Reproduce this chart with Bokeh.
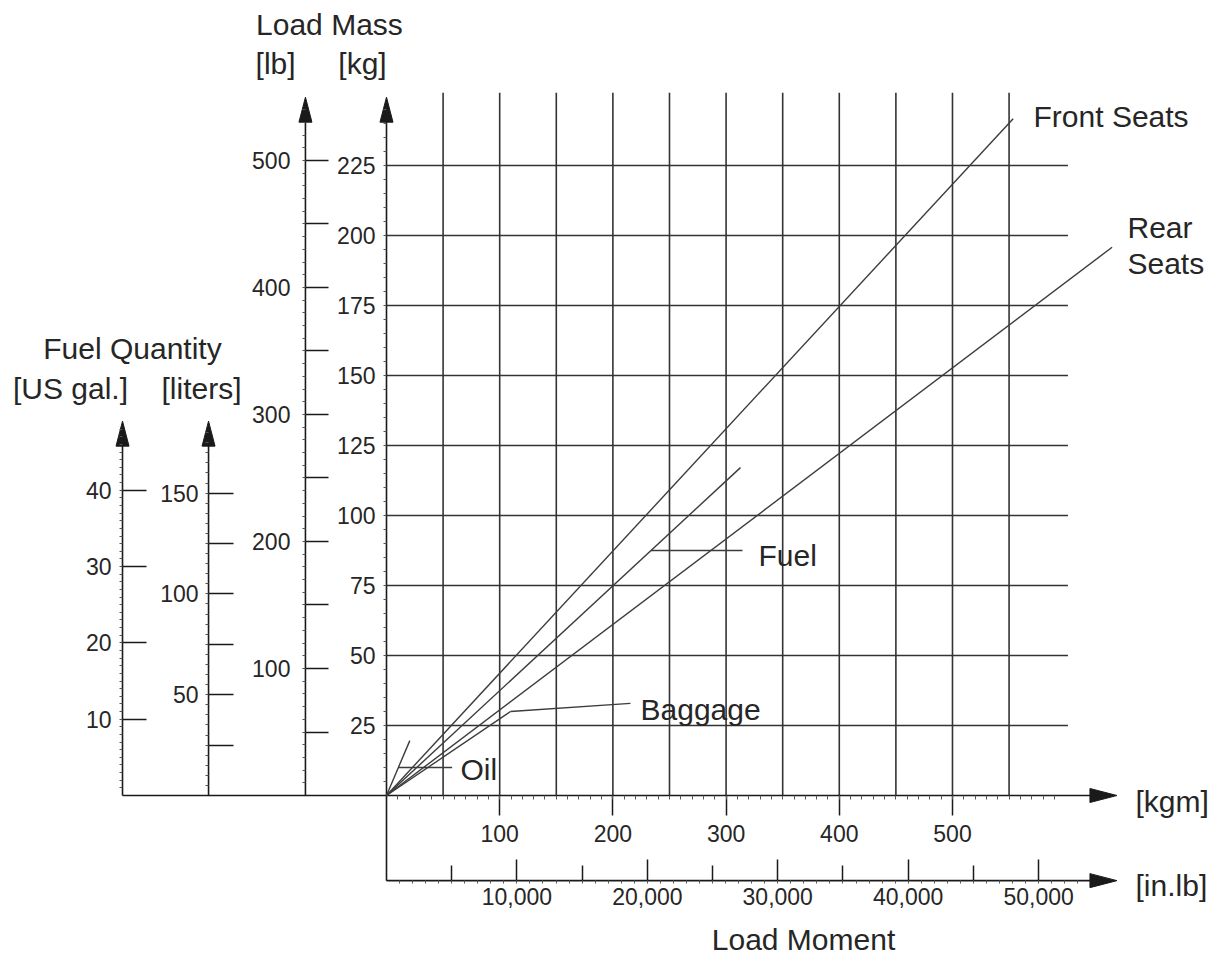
from bokeh.plotting import figure
from bokeh.models import (LinearAxis, Range1d, FixedTicker, ColumnDataSource,
                          NumeralTickFormatter)
from bokeh.core.properties import value
from bokeh.embed import file_html
from bokeh.resources import INLINE

# ---------------- data ----------------
KG_PER_LB = 0.45359237
FUEL_KG_PER_L = 0.72
L_PER_GAL = 3.78541
INLB_PER_KGM = 86.796

# load lines: end points (load moment kgm, load mass kg), all from origin
line_names = ["Front Seats", "Rear Seats", "Fuel", "Baggage", "Oil"]
line_end_kgm = [553.6, 641.0, 312.7, 109.5, 20.6]
line_end_kg = [241.7, 195.8, 117.1, 30.0, 19.6]

# axes ticks
kgm_labels = [100, 200, 300, 400, 500]
kgm_grid = [50, 100, 150, 200, 250, 300, 350, 400, 450, 500, 550]
kg_ticks = [25, 50, 75, 100, 125, 150, 175, 200, 225]
lb_ticks = [50, 100, 150, 200, 250, 300, 350, 400, 450, 500]
lb_labelled = [100, 200, 300, 400, 500]
liter_ticks = [25, 50, 75, 100, 125, 150]
liter_labelled = [50, 100, 150]
gal_ticks = [10, 20, 30, 40]
inlb_ticks = [10000, 20000, 30000, 40000, 50000]
inlb_mid = [5000, 15000, 25000, 35000, 45000]

FONT = "Liberation Sans"
INK = "#262626"
LINE = "#333333"
TICK_SIZE = "23px"
LABEL_SIZE = "30px"

# ---------------- figure ----------------
W, H = 1212, 962
X0, X1 = -340.99, 729.7
Y0, Y1 = -59.64, 283.93
SX = W / (X1 - X0)   # px per kgm
SY = H / (Y1 - Y0)   # px per kg

p = figure(width=W, height=H, x_range=Range1d(X0, X1), y_range=Range1d(Y0, Y1),
           x_axis_type=None, y_axis_type=None, toolbar_location=None,
           output_backend="svg", min_border=0, outline_line_color=None,
           background_fill_color="white", border_fill_color="white")
p.extra_y_ranges = {
    "lb": Range1d(Y0 / KG_PER_LB, Y1 / KG_PER_LB),
    "liters": Range1d(Y0 / FUEL_KG_PER_L, Y1 / FUEL_KG_PER_L),
    "gal": Range1d(Y0 / FUEL_KG_PER_L / L_PER_GAL, Y1 / FUEL_KG_PER_L / L_PER_GAL),
}
p.extra_x_ranges = {"inlb": Range1d(X0 * INLB_PER_KGM, X1 * INLB_PER_KGM)}

# axis positions (in kgm) and arrow tips
GAL_X, LIT_X, LB_X, KG_X = -233.2, -157.2, -71.6, 0.0
FUEL_TIP, MASS_TIP = 133.7, 249.4
INLB_Y = -30.4
MOM_TIP = 645.3

# ---------------- grid ----------------
p.segment(x0=kgm_grid, y0=[0] * len(kgm_grid), x1=kgm_grid, y1=[251] * len(kgm_grid),
          line_color=LINE, line_width=1.6)
p.segment(x0=[0] * len(kg_ticks), y0=kg_ticks, x1=[602] * len(kg_ticks), y1=kg_ticks,
          line_color=LINE, line_width=1.6)

# ---------------- axis lines with arrow heads ----------------
HL, HW = 25, 6.5   # head length / half width in px
v_axes_x = [GAL_X, LIT_X, LB_X, KG_X]
v_axes_y0 = [0, 0, 0, INLB_Y]
v_axes_tip = [FUEL_TIP, FUEL_TIP, MASS_TIP, MASS_TIP]
p.segment(x0=v_axes_x, y0=v_axes_y0, x1=v_axes_x,
          y1=[t - 0.7 * HL / SY for t in v_axes_tip], line_color="#1a1a1a", line_width=1.6)
p.patches(xs=[[x, x - HW / SX, x + HW / SX] for x in v_axes_x],
          ys=[[t, t - HL / SY, t - HL / SY] for t in v_axes_tip],
          fill_color="#1a1a1a", line_color="#1a1a1a")

h_axes_y = [0, INLB_Y]
h_axes_x0 = [GAL_X, 0]
p.segment(x0=h_axes_x0, y0=h_axes_y, x1=[MOM_TIP - 0.7 * 27 / SX] * 2, y1=h_axes_y,
          line_color="#1a1a1a", line_width=1.6)
p.patches(xs=[[MOM_TIP, MOM_TIP - 27 / SX, MOM_TIP - 27 / SX] for _ in h_axes_y],
          ys=[[y, y + 7 / SY, y - 7 / SY] for y in h_axes_y],
          fill_color="#1a1a1a", line_color="#1a1a1a")


def style(ax, size=TICK_SIZE):
    ax.axis_line_color = None
    ax.major_label_text_font = FONT
    ax.major_label_text_font_size = size
    ax.major_label_text_color = INK
    ax.major_tick_line_color = "#1a1a1a"
    ax.major_tick_line_width = 1.5
    ax.minor_tick_line_color = "#555555"
    ax.minor_tick_line_width = 1
    return ax


def blank_overrides(ticks, keep):
    return {t: (str(t) if t in keep else "") for t in ticks}


# kg axis
ax = style(LinearAxis(fixed_location=KG_X,
                      ticker=FixedTicker(ticks=kg_ticks, minor_ticks=list(range(5, 250, 5)))))
ax.major_tick_in, ax.major_tick_out = 0, 0
ax.minor_tick_in, ax.minor_tick_out = 0, 3
ax.major_label_standoff = 8
p.add_layout(ax, "left")

# lb axis
ax = style(LinearAxis(y_range_name="lb", fixed_location=LB_X,
                      ticker=FixedTicker(ticks=lb_ticks, minor_ticks=list(range(10, 550, 10)))))
ax.major_label_overrides = blank_overrides(lb_ticks, lb_labelled)
ax.major_tick_in, ax.major_tick_out = 23, 0
ax.minor_tick_in, ax.minor_tick_out = 0, 3
ax.major_label_standoff = 12
p.add_layout(ax, "left")

# liters axis
ax = style(LinearAxis(y_range_name="liters", fixed_location=LIT_X,
                      ticker=FixedTicker(ticks=liter_ticks, minor_ticks=list(range(5, 185, 5)))))
ax.major_label_overrides = blank_overrides(liter_ticks, liter_labelled)
ax.major_tick_in, ax.major_tick_out = 25, 0
ax.minor_tick_in, ax.minor_tick_out = 0, 3
ax.major_label_standoff = 7
p.add_layout(ax, "left")

# US gal axis
ax = style(LinearAxis(y_range_name="gal", fixed_location=GAL_X,
                      ticker=FixedTicker(ticks=gal_ticks, minor_ticks=list(range(1, 49)))))
ax.major_tick_in, ax.major_tick_out = 24, 0
ax.minor_tick_in, ax.minor_tick_out = 0, 3
ax.major_label_standoff = 8
p.add_layout(ax, "left")

# kgm axis
ax = style(LinearAxis(fixed_location=0,
                      ticker=FixedTicker(ticks=kgm_labels, minor_ticks=list(range(10, 600, 10)))))
ax.major_tick_in, ax.major_tick_out = 0, 20
ax.minor_tick_in, ax.minor_tick_out = 0, 4
ax.major_label_standoff = 9
p.add_layout(ax, "below")

# in.lb axis
ax = style(LinearAxis(x_range_name="inlb", fixed_location=INLB_Y,
                      ticker=FixedTicker(ticks=inlb_ticks, minor_ticks=inlb_mid),
                      formatter=NumeralTickFormatter(format="0,0")))
ax.major_tick_in, ax.major_tick_out = 21, 0
ax.minor_tick_in, ax.minor_tick_out = 15, 0
ax.minor_tick_line_color = "#1a1a1a"
ax.minor_tick_line_width = 1.5
ax.major_label_standoff = 7
p.add_layout(ax, "below")

ax = style(LinearAxis(x_range_name="inlb", fixed_location=INLB_Y,
                      ticker=FixedTicker(ticks=[], minor_ticks=list(range(1000, 54000, 1000)))))
ax.minor_tick_in, ax.minor_tick_out = 0, 3
p.add_layout(ax, "below")

# ---------------- load lines ----------------
src = ColumnDataSource(dict(x1=line_end_kgm, y1=line_end_kg,
                            x0=[0] * len(line_names), y0=[0] * len(line_names),
                            name=line_names))
p.segment(x0="x0", y0="y0", x1="x1", y1="y1", source=src,
          line_color="#3c3c3c", line_width=1.4)

# leader lines (label pointers)
slope = {n: x / y for n, x, y in zip(line_names, line_end_kgm, line_end_kg)}
lead_y0 = [87.5, 30.0, 10.0]
lead_x0 = [87.5 * slope["Fuel"], 30.0 * slope["Baggage"], 10.0 * slope["Oil"]]
lead_x1 = [314.5, 215.5, 58.0]
lead_y1 = [87.5, 32.9, 10.0]
p.segment(x0=lead_x0, y0=lead_y0, x1=lead_x1, y1=lead_y1, line_color="#3c3c3c", line_width=1.4)

# ---------------- texts ----------------
centre_txt = dict(
    text=["Load Mass", "[lb]", "[kg]", "Fuel Quantity", "[US gal.]", "[liters]", "Load Moment"],
    x=[-50.4, -98.0, -21.2, -224.4, -279.2, -163.4, 368.4],
    y=[275.4, 261.4, 261.4, 159.8, 145.4, 145.4, -51.6])
p.text(x="x", y="y", text="text", source=ColumnDataSource(centre_txt),
       text_font=value(FONT), text_font_size=value(LABEL_SIZE), text_color=INK,
       text_align="center", text_baseline="middle")

left_txt = dict(
    text=["Front Seats", "Rear", "Seats", "Fuel", "Baggage", "Oil", "[kgm]", "[in.lb]"],
    x=[571.6, 654.6, 654.6, 328.6, 224.4, 65.4, 661.7, 661.7],
    y=[242.5, 202.7, 190.0, 85.7, 30.7, 9.3, -2.1, -32.1])
p.text(x="x", y="y", text="text", source=ColumnDataSource(left_txt),
       text_font=value(FONT), text_font_size=value(LABEL_SIZE), text_color=INK,
       text_align="left", text_baseline="middle")

open("out.html", "w").write(file_html(p, INLINE))
